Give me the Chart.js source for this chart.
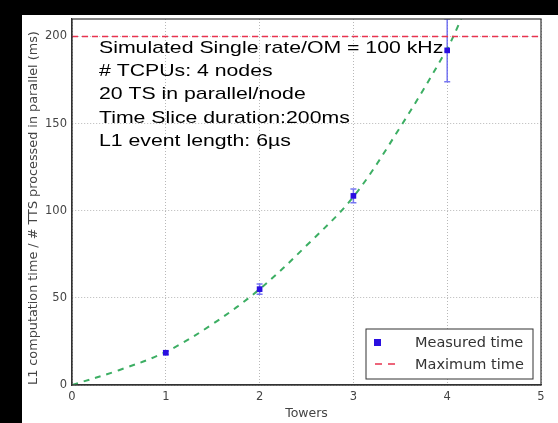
<!DOCTYPE html>
<html>
<head>
<meta charset="utf-8">
<script src="https://cdn.jsdelivr.net/npm/chart.js@4.4.0/dist/chart.umd.min.js"></script>
<style>
  html, body { margin: 0; padding: 0; background: #000; width: 558px; height: 423px; overflow: hidden; }
  #wrap { position: absolute; left: 22px; top: 15px; width: 536px; height: 408px; background: #fff; }
</style>
</head>
<body>
<div id="wrap"><canvas id="myChart" width="536" height="408"></canvas></div>
<script>
// Measured points (towers vs time)
const towers = [1, 2, 3, 4]
const measuredTime = [18.5, 55, 108.5, 192]
const measuredErr = [1, 3, 4, 18]

// green dashed fit curve
const fitX = [0, 0.5, 1, 1.5, 2, 2.5, 3, 3.5, 4, 4.15]
const fitY = [0, 8.5, 19, 35, 55, 80, 108, 148, 193, 210]

// maximum time line
const maxX = [0, 5]
const maxY = [200, 200]

// axes
const xTicks = [0, 1, 2, 3, 4, 5]
const yTicks = [0, 50, 100, 150, 200]

const infoLines = [
  "Simulated Single rate/OM = 100 kHz",
  "# TCPUs: 4 nodes",
  "20 TS in parallel/node",
  "Time Slice duration:200ms",
  "L1 event length: 6µs"
]
const legendLabels = ["Measured time", "Maximum time"]

const blue = "#2a0fe0"
const red = "#e8334f"
const green = "#3cae63"

// error bars, drawn under the datasets
const errorBars = {
  id: "errorBars",
  beforeDatasetsDraw(chart) {
    const ctx = chart.ctx, x = chart.scales.x, y = chart.scales.y, a = chart.chartArea
    ctx.save()
    ctx.beginPath()
    ctx.rect(a.left, a.top, a.right - a.left, a.bottom - a.top)
    ctx.clip()
    ctx.strokeStyle = "rgba(95,95,240,0.85)"
    ctx.lineWidth = 1.5
    towers.forEach((t, i) => {
      const px = x.getPixelForValue(t)
      const y1 = y.getPixelForValue(measuredTime[i] - measuredErr[i])
      const y2 = y.getPixelForValue(measuredTime[i] + measuredErr[i])
      ctx.beginPath()
      ctx.moveTo(px, y1); ctx.lineTo(px, y2)
      ctx.moveTo(px - 3, y1); ctx.lineTo(px + 3, y1)
      ctx.moveTo(px - 3, y2); ctx.lineTo(px + 3, y2)
      ctx.stroke()
    })
    ctx.restore()
  }
}

// frame, text box and legend
const extras = {
  id: "extras",
  afterDraw(chart) {
    const ctx = chart.ctx, a = chart.chartArea
    ctx.save()
    ctx.strokeStyle = "#333"
    ctx.lineWidth = 1.2
    ctx.strokeRect(a.left, a.top, a.right - a.left, a.bottom - a.top)

    // info text
    ctx.fillStyle = "#000"
    ctx.font = '17px "Liberation Sans", Arial, sans-serif'
    ctx.textBaseline = "middle"
    infoLines.forEach((line, i) => {
      ctx.save()
      ctx.translate(a.left + 27, a.top + 29 + i * 23.4)
      ctx.scale(1.25, 1)
      ctx.fillText(line, 0, 0)
      ctx.restore()
    })

    // legend
    const w = 167, h = 50
    const lx = a.right - 8 - w, ly = a.bottom - 6 - h
    ctx.fillStyle = "#fff"
    ctx.fillRect(lx, ly, w, h)
    ctx.strokeStyle = "#333"
    ctx.lineWidth = 1
    ctx.strokeRect(lx, ly, w, h)
    ctx.fillStyle = blue
    ctx.fillRect(lx + 8, ly + 10, 7, 7)
    ctx.strokeStyle = red
    ctx.lineWidth = 1.5
    ctx.setLineDash([7, 6])
    ctx.beginPath()
    ctx.moveTo(lx + 9, ly + 35); ctx.lineTo(lx + 29, ly + 35)
    ctx.stroke()
    ctx.setLineDash([])
    ctx.fillStyle = "#333"
    ctx.font = '14.5px "DejaVu Sans", sans-serif'
    ctx.fillText(legendLabels[0], lx + 49, ly + 14)
    ctx.fillText(legendLabels[1], lx + 49, ly + 36)
    ctx.restore()
  }
}

const tickFont = { family: "DejaVu Sans", size: 11.5 }

new Chart(document.getElementById("myChart"), {
  type: "scatter",
  data: {
    datasets: [
      {
        label: legendLabels[0],
        data: towers.map((t, i) => ({ x: t, y: measuredTime[i] })),
        pointStyle: "rect",
        pointRadius: 4,
        backgroundColor: blue,
        borderColor: blue,
        borderWidth: 0
      },
      {
        label: legendLabels[1],
        data: maxX.map((v, i) => ({ x: v, y: maxY[i] })),
        showLine: true,
        borderColor: red,
        borderWidth: 1.5,
        borderDash: [6, 4],
        pointRadius: 0
      },
      {
        label: "fit",
        data: fitX.map((v, i) => ({ x: v, y: fitY[i] })),
        showLine: true,
        borderColor: green,
        borderWidth: 2,
        borderDash: [6, 6],
        tension: 0.35,
        pointRadius: 0
      }
    ]
  },
  options: {
    responsive: false,
    animation: false,
    layout: { padding: { top: 2, right: 17, left: 0, bottom: 0 } },
    plugins: {
      legend: { display: false },
      tooltip: { enabled: false }
    },
    scales: {
      x: {
        type: "linear",
        min: 0,
        max: 5,
        afterBuildTicks: s => { s.ticks = xTicks.map(v => ({ value: v })) },
        afterFit: s => { s.height = 38; s.paddingLeft = 0; s.paddingRight = 0 },
        ticks: { color: "#444", font: tickFont, padding: 5, maxRotation: 0 },
        grid: { color: "#b8b8b8", lineWidth: 1, drawTicks: false },
        border: { color: "#333", width: 1.2, dash: [1, 2] },
        title: { display: true, text: "Towers", color: "#444", font: { family: "DejaVu Sans", size: 12.5 }, padding: { top: 0, bottom: 2 } }
      },
      y: {
        type: "linear",
        min: 0,
        max: 210,
        afterBuildTicks: s => { s.ticks = yTicks.map(v => ({ value: v })) },
        afterFit: s => { s.width = 50; s.paddingTop = 0; s.paddingBottom = 0 },
        ticks: { color: "#444", font: tickFont, padding: 5 },
        grid: { color: "#b8b8b8", lineWidth: 1, drawTicks: false },
        border: { color: "#333", width: 1.2, dash: [1, 2] },
        title: { display: true, align: "start", text: "L1 computation time / # TTS processed in parallel (ms)", color: "#444", font: { family: "DejaVu Sans", size: 12.8 }, padding: { top: 4, bottom: 0 } }
      }
    }
  },
  plugins: [errorBars, extras]
})
</script>
</body>
</html>
